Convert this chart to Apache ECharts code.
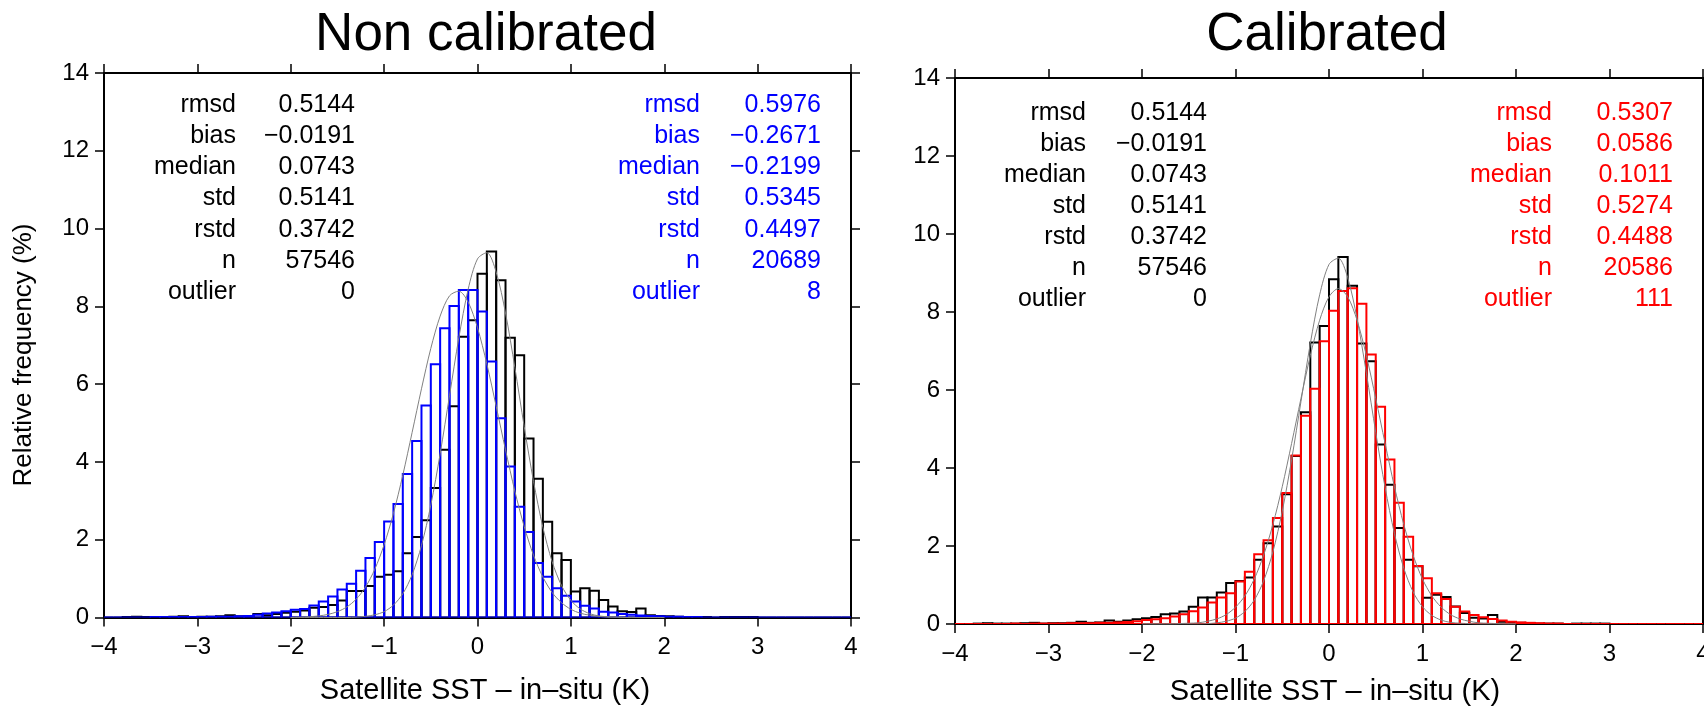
<!DOCTYPE html>
<html>
<head>
<meta charset="utf-8">
<script src="https://cdn.jsdelivr.net/npm/echarts@6/dist/echarts.min.js"></script>
<style>
	html,body{margin:0;padding:0;background:#fff;}
	#main{width:1704px;height:711px;}
</style>
</head>
<body>
<div id="main"></div>
<script>
	// bins of 0.1 K from -4 to 4 (left edge of each bin)
	var binWidth = 0.1;
	var binStart = [];
	for (var i = 0; i < 80; i++) {
		binStart.push(Math.round((-4 + i * binWidth) * 10) / 10);
	}

	// reference (black) histogram, same in both panels
	var refFreq = [0, 0, 0.01, 0.02, 0.01, 0.01, 0.01, 0.02, 0.03, 0.01,
		0.02, 0.02, 0.03, 0.06, 0.03, 0.04, 0.09, 0.06, 0.09, 0.12,
		0.15, 0.18, 0.25, 0.27, 0.32, 0.44, 0.68, 0.68, 0.81, 1.05,
		1.10, 1.19, 1.65, 2.07, 2.50, 3.33, 4.31, 5.43, 7.22, 7.64,
		8.84, 9.41, 8.67, 7.19, 6.74, 4.60, 3.57, 2.46, 1.65, 1.48,
		0.67, 0.75, 0.69, 0.45, 0.28, 0.16, 0.14, 0.23, 0.06, 0.04,
		0.03, 0.02, 0.01, 0.01, 0.01, 0, 0.01, 0.01, 0.01, 0.01,
		0, 0, 0, 0, 0, 0, 0, 0, 0, 0];

	// non calibrated (blue)
	var nonCalFreq = [0, 0, 0, 0, 0, 0.01, 0.01, 0.01, 0.01, 0.01,
		0.01, 0.02, 0.02, 0.02, 0.03, 0.04, 0.07, 0.10, 0.13, 0.16,
		0.20, 0.22, 0.31, 0.41, 0.54, 0.72, 0.87, 1.20, 1.53, 1.94,
		2.47, 2.92, 3.69, 4.54, 5.45, 6.51, 7.44, 8.01, 8.42, 8.42,
		7.87, 6.58, 5.12, 3.88, 2.85, 2.20, 1.40, 1.05, 0.75, 0.56,
		0.41, 0.30, 0.23, 0.15, 0.13, 0.09, 0.07, 0.05, 0.04, 0.03,
		0.02, 0.02, 0.01, 0.01, 0, 0, 0, 0, 0, 0,
		0, 0, 0, 0, 0, 0, 0, 0, 0, 0];

	// calibrated (red)
	var calFreq = [0, 0, 0, 0, 0, 0, 0.01, 0, 0.01, 0.01,
		0.01, 0.01, 0.02, 0.02, 0.02, 0.03, 0.03, 0.04, 0.05, 0.07,
		0.10, 0.12, 0.15, 0.19, 0.25, 0.33, 0.42, 0.55, 0.68, 0.79,
		1.09, 1.34, 1.79, 2.15, 2.72, 3.36, 4.32, 5.34, 6.03, 7.25,
		8.03, 8.54, 8.61, 8.21, 6.91, 5.57, 4.22, 3.11, 2.24, 1.49,
		1.17, 0.79, 0.64, 0.44, 0.32, 0.23, 0.17, 0.13, 0.09, 0.06,
		0.04, 0.03, 0.02, 0.01, 0.01, 0, 0, 0, 0, 0,
		0, 0, 0, 0, 0, 0, 0, 0, 0, 0];

	// thin gray fitted curves, read at -2.0 .. 2.0 step 0.1
	var curveX = [-2.0, -1.9, -1.8, -1.7, -1.6, -1.5, -1.4, -1.3, -1.2, -1.1,
		-1.0, -0.9, -0.8, -0.7, -0.6, -0.5, -0.4, -0.3, -0.2, -0.1,
		0.0, 0.1, 0.2, 0.3, 0.4, 0.5, 0.6, 0.7, 0.8, 0.9,
		1.0, 1.1, 1.2, 1.3, 1.4, 1.5, 1.6, 1.7, 1.8, 1.9, 2.0];
	var refFit = [0, 0, 0, 0, 0, 0, 0, 0.01, 0.03, 0.07,
		0.15, 0.32, 0.61, 1.10, 1.85, 2.89, 4.21, 5.70, 7.19, 8.44,
		9.22, 9.38, 8.88, 7.83, 6.43, 4.91, 3.50, 2.32, 1.43, 0.82,
		0.44, 0.22, 0.10, 0.04, 0.02, 0.01, 0, 0, 0, 0, 0];
	var nonCalFit = [0, 0.01, 0.02, 0.04, 0.08, 0.15, 0.27, 0.47, 0.78, 1.24,
		1.87, 2.68, 3.66, 4.76, 5.88, 6.92, 7.75, 8.27, 8.39, 8.11,
		7.45, 6.52, 5.43, 4.31, 3.25, 2.34, 1.60, 1.04, 0.64, 0.38,
		0.21, 0.11, 0.06, 0.03, 0.01, 0.01, 0, 0, 0, 0, 0];
	var calFit = [0, 0, 0, 0, 0.01, 0.02, 0.03, 0.07, 0.13, 0.24,
		0.43, 0.72, 1.15, 1.76, 2.55, 3.52, 4.63, 5.78, 6.88, 7.79,
		8.39, 8.60, 8.39, 7.79, 6.88, 5.78, 4.63, 3.52, 2.55, 1.76,
		1.15, 0.72, 0.43, 0.24, 0.13, 0.07, 0.03, 0.02, 0.01, 0, 0];

	// statistics boxes
	var statNames = ['rmsd', 'bias', 'median', 'std', 'rstd', 'n', 'outlier'];
	var refStats = ['0.5144', '\u22120.0191', '0.0743', '0.5141', '0.3742', '57546', '0'];
	var nonCalStats = ['0.5976', '\u22120.2671', '\u22120.2199', '0.5345', '0.4497', '20689', '8'];
	var calStats = ['0.5307', '0.0586', '0.1011', '0.5274', '0.4488', '20586', '111'];

	var FONT = '"Liberation Sans", Arial, Helvetica, sans-serif';

	function histData(freq) {
		var out = [];
		for (var i = 0; i < freq.length; i++) {
			out.push([binStart[i], binStart[i] + binWidth, freq[i]]);
		}
		return out;
	}
	function curveData(ys) {
		var out = [];
		for (var i = 0; i < curveX.length; i++) {
			out.push([curveX[i], ys[i]]);
		}
		return out;
	}

	function histSeries(freq, color, gi) {
		return {
			type: 'custom',
			xAxisIndex: gi * 2,
			yAxisIndex: gi * 2,
			data: histData(freq),
			clip: true,
			silent: true,
			renderItem: function (params, api) {
				var p0 = api.coord([api.value(0), api.value(2)]);
				var p1 = api.coord([api.value(1), 0]);
				return {
					type: 'rect',
					shape: { x: p0[0], y: p0[1], width: p1[0] - p0[0], height: p1[1] - p0[1] },
					style: { fill: 'none', stroke: color, lineWidth: 2 }
				};
			}
		};
	}
	function fitSeries(ys, gi) {
		return {
			type: 'line',
			xAxisIndex: gi * 2,
			yAxisIndex: gi * 2,
			data: curveData(ys),
			smooth: 0.3,
			showSymbol: false,
			silent: true,
			z: 5,
			lineStyle: { color: '#808080', width: 1 }
		};
	}

	function minusFmt(v) {
		return String(v).replace('-', '\u2212');
	}

	var frameLine = { show: true, onZero: false, lineStyle: { color: '#000', width: 2 } };
	var frameTick = { show: true, inside: false, length: 9, lineStyle: { color: '#000', width: 1.5 } };

	function xAxes(gi) {
		var main = {
			type: 'value', gridIndex: gi, min: -4, max: 4, interval: 1,
			position: 'bottom',
			axisLine: frameLine,
			axisTick: frameTick,
			axisLabel: { show: true, margin: 18, fontSize: 24, color: '#000', fontFamily: FONT, formatter: minusFmt },
			splitLine: { show: false }
		};
		var top = {
			type: 'value', gridIndex: gi, min: -4, max: 4, interval: 1,
			position: 'top',
			axisLine: frameLine,
			axisTick: frameTick,
			axisLabel: { show: false },
			splitLine: { show: false }
		};
		return [main, top];
	}
	function yAxes(gi) {
		var main = {
			type: 'value', gridIndex: gi, min: 0, max: 14, interval: 2,
			position: 'left',
			axisLine: frameLine,
			axisTick: frameTick,
			axisLabel: { show: true, margin: 15, fontSize: 24, color: '#000', fontFamily: FONT },
			splitLine: { show: false }
		};
		var right = {
			type: 'value', gridIndex: gi, min: 0, max: 14, interval: 2,
			position: 'right',
			axisLine: frameLine,
			axisTick: frameTick,
			axisLabel: { show: false },
			splitLine: { show: false }
		};
		return [main, right];
	}

	function statTexts(names, values, nameRight, valueRight, y0, dy, color) {
		var els = [];
		for (var i = 0; i < names.length; i++) {
			var y = y0 + dy * i;
			els.push({ type: 'text', silent: true, style: {
				text: names[i], x: nameRight, y: y, fill: color,
				font: '25px ' + FONT, align: 'right', verticalAlign: 'middle' } });
			els.push({ type: 'text', silent: true, style: {
				text: values[i], x: valueRight, y: y, fill: color,
				font: '25px ' + FONT, align: 'right', verticalAlign: 'middle' } });
		}
		return els;
	}

	var xTitle = 'Satellite SST \u2013 in\u2013situ (K)';
	var graphics = [
		{ type: 'text', silent: true, style: { text: 'Non calibrated', x: 486, y: 35,
			font: '53px ' + FONT, fill: '#000', align: 'center', verticalAlign: 'middle' } },
		{ type: 'text', silent: true, style: { text: 'Calibrated', x: 1327, y: 35,
			font: '53px ' + FONT, fill: '#000', align: 'center', verticalAlign: 'middle' } },
		{ type: 'text', silent: true, style: { text: xTitle, x: 485, y: 691,
			font: '29px ' + FONT, fill: '#000', align: 'center', verticalAlign: 'middle' } },
		{ type: 'text', silent: true, style: { text: xTitle, x: 1335, y: 692,
			font: '29px ' + FONT, fill: '#000', align: 'center', verticalAlign: 'middle' } },
		{ type: 'text', silent: true, x: 24, y: 355, rotation: Math.PI / 2,
			style: { text: 'Relative frequency (%)', x: 0, y: 0,
			font: '26px ' + FONT, fill: '#000', align: 'center', verticalAlign: 'middle' } }
	];
	graphics = graphics
		.concat(statTexts(statNames, refStats, 236, 355, 105, 31.2, '#000'))
		.concat(statTexts(statNames, nonCalStats, 700, 821, 105, 31.2, '#0000ff'))
		.concat(statTexts(statNames, refStats, 1086, 1207, 113, 31, '#000'))
		.concat(statTexts(statNames, calStats, 1552, 1673, 113, 31, '#ff0000'));

	var chart = echarts.init(document.getElementById('main'), null, { renderer: 'canvas' });
	var option = {
		animation: false,
		backgroundColor: '#fff',
		grid: [
			{ left: 104, top: 73, width: 747, height: 544.5, containLabel: false, outerBoundsMode: 'none' },
			{ left: 955, top: 78, width: 748, height: 546, containLabel: false, outerBoundsMode: 'none' }
		],
		xAxis: xAxes(0).concat(xAxes(1)),
		yAxis: yAxes(0).concat(yAxes(1)),
		series: [
			histSeries(refFreq, '#000', 0),
			histSeries(nonCalFreq, '#0000ff', 0),
			fitSeries(refFit, 0),
			fitSeries(nonCalFit, 0),
			histSeries(refFreq, '#000', 1),
			histSeries(calFreq, '#ff0000', 1),
			fitSeries(refFit, 1),
			fitSeries(calFit, 1)
		],
		graphic: graphics
	};
	chart.setOption(option);
</script>
</body>
</html>
